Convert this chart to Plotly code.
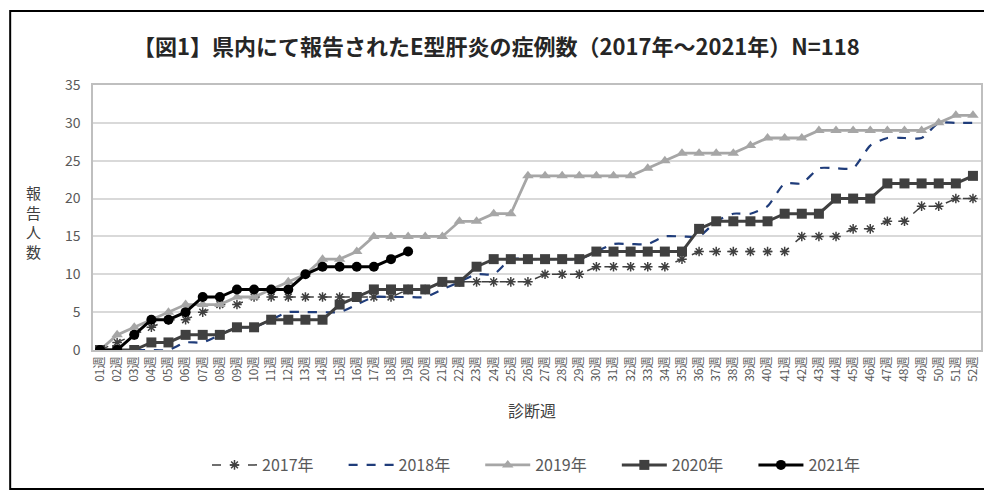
import plotly.graph_objects as go

weeks = list(range(1, 53))
week_labels = [f"{w:02d}週" for w in weeks]

y2017 = [0, 1, 2, 3, 4, 4, 5, 6, 6, 7, 7, 7, 7, 7, 7, 7, 7, 7, 8, 8, 9, 9, 9, 9, 9, 9,
         10, 10, 10, 11, 11, 11, 11, 11, 12, 13, 13, 13, 13, 13, 13, 15, 15, 15, 16, 16,
         17, 17, 19, 19, 20, 20]
y2018 = [0, 0, 0, 0, 0, 1, 1, 2, 3, 3, 4, 5, 5, 5, 5, 6, 7, 7, 7, 7, 8, 9, 10, 10, 12, 12,
         12, 12, 12, 13, 14, 14, 14, 15, 15, 15, 17, 18, 18, 19, 22, 22, 24, 24, 24, 27,
         28, 28, 28, 30, 30, 30]
y2019 = [0, 2, 3, 4, 5, 6, 6, 6, 7, 7, 8, 9, 10, 12, 12, 13, 15, 15, 15, 15, 15, 17, 17, 18,
         18, 23, 23, 23, 23, 23, 23, 23, 24, 25, 26, 26, 26, 26, 27, 28, 28, 28, 29, 29,
         29, 29, 29, 29, 29, 30, 31, 31]
y2020 = [0, 0, 0, 1, 1, 2, 2, 2, 3, 3, 4, 4, 4, 4, 6, 7, 8, 8, 8, 8, 9, 9, 11, 12, 12, 12,
         12, 12, 12, 13, 13, 13, 13, 13, 13, 16, 17, 17, 17, 17, 18, 18, 18, 20, 20, 20,
         22, 22, 22, 22, 22, 23]
y2021 = [0, 0, 2, 4, 4, 5, 7, 7, 8, 8, 8, 8, 10, 11, 11, 11, 11, 12, 13]

series_names = ["2017年", "2018年", "2019年", "2020年", "2021年"]
title_text = "【図1】県内にて報告されたE型肝炎の症例数（2017年～2021年）N=118"
ytitle = "報<br>告<br>人<br>数"
xtitle = "診断週"

FONT = "Noto Sans CJK JP"
TXT = "#595959"
PAD = "\u00a0" * 7

fig = go.Figure()
fig.add_trace(go.Scatter(x=weeks, y=y2017, name=series_names[0] + PAD, mode="lines+markers",
                         line=dict(color="#404040", width=1.5, dash="dash"),
                         marker=dict(symbol="asterisk-open", size=8,
                                     line=dict(color="#404040", width=1.5))))
fig.add_trace(go.Scatter(x=weeks, y=y2018, name=series_names[1] + PAD, mode="lines",
                         line=dict(color="#1F3C7A", width=2.2, dash="dash", shape="spline",
                                   smoothing=0.6)))
fig.add_trace(go.Scatter(x=weeks, y=y2019, name=series_names[2] + PAD, mode="lines+markers",
                         line=dict(color="#A6A6A6", width=2.8),
                         marker=dict(symbol="triangle-up", size=10, color="#A6A6A6")))
fig.add_trace(go.Scatter(x=weeks, y=y2020, name=series_names[3] + PAD, mode="lines+markers",
                         line=dict(color="#404040", width=3),
                         marker=dict(symbol="square", size=10, color="#404040")))
fig.add_trace(go.Scatter(x=weeks[:len(y2021)], y=y2021, name=series_names[4], mode="lines+markers",
                         line=dict(color="#000000", width=3),
                         marker=dict(symbol="circle", size=10, color="#000000")))

OFF = 8  # page body margin
W, H = 992 - OFF, 495 - OFF
# plot area in page pixels: x 93..983, y 85..350
L = 93 - OFF
T = 85 - OFF
R = W - (983 - OFF)
B = H - (350 - OFF)
pw, ph = W - L - R, H - T - B

def px(x):
    return (x - OFF - L) / pw

def py(y):
    return (H - B - (y - OFF)) / ph

fig.update_layout(
    width=W, height=H,
    margin=dict(l=L, r=R, t=T, b=B),
    paper_bgcolor="white", plot_bgcolor="white",
    font=dict(family=FONT, color=TXT),
    showlegend=True,
    legend=dict(orientation="h", x=px(537), xanchor="center", y=py(465), yanchor="middle",
                font=dict(size=16, color=TXT, family=FONT), itemwidth=45,
                traceorder="normal"),
    xaxis=dict(range=[0.59, 52.47], tickvals=weeks, ticktext=week_labels, tickangle=-90,
               tickfont=dict(size=12, color=TXT, family=FONT), showgrid=False,
               showline=True, linecolor="#BFBFBF", linewidth=1.5, mirror=True,
               ticks="", zeroline=False),
    yaxis=dict(range=[0, 35], dtick=5, tickfont=dict(size=14, color=TXT, family=FONT),
               showgrid=True, gridcolor="#D9D9D9", gridwidth=1.5,
               showline=True, linecolor="#BFBFBF", linewidth=1.5, mirror=True,
               ticks="", zeroline=False, ticklabelstandoff=8),
    annotations=[
        dict(text=title_text, x=px(497), y=py(45), xref="paper", yref="paper",
             showarrow=False, font=dict(size=22, color="#262626", family=FONT, weight="bold"),
             xanchor="center", yanchor="middle"),
        dict(text=ytitle, x=px(33), y=py(222), xref="paper", yref="paper",
             showarrow=False, font=dict(size=15, color="#404040", family=FONT),
             xanchor="center", yanchor="middle"),
        dict(text=xtitle, x=px(533), y=py(410), xref="paper", yref="paper",
             showarrow=False, font=dict(size=16, color="#404040", family=FONT),
             xanchor="center", yanchor="middle"),
    ],
    shapes=[dict(type="rect", xref="paper", yref="paper",
                 x0=px(10), x1=px(989), y0=py(489), y1=py(11),
                 line=dict(color="black", width=2), fillcolor="rgba(0,0,0,0)", layer="below")],
)

fig.write_html("out.html")
